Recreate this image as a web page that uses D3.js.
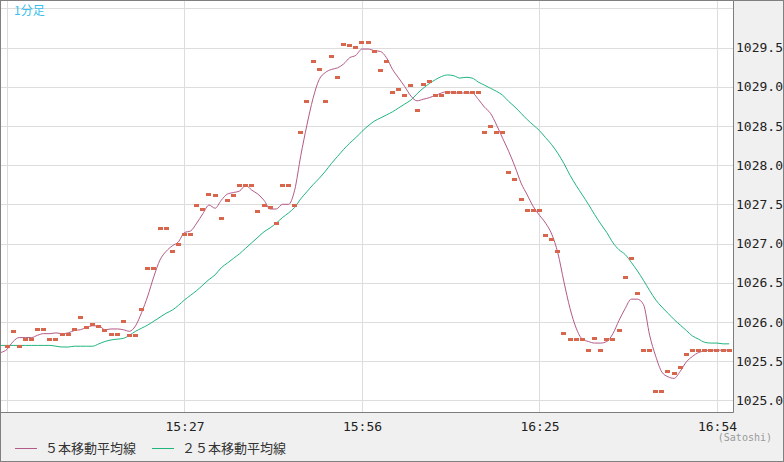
<!DOCTYPE html>
<html>
<head>
<meta charset="utf-8">
<script src="https://cdn.jsdelivr.net/npm/d3@7"></script>
<style>
  html, body { margin: 0; padding: 0; background: #f0f0f0; }
  svg { display: block; }
</style>
</head>
<body>
<svg id="chart"></svg>
<script>
// 1 minute bars, 14:58 - 16:56
var priceStart = "14:58";
var price = [
  1025.68, 1025.88, 1025.68, 1025.78, 1025.78, 1025.90, 1025.90, 1025.78, 1025.78, 1025.84,
  1025.84, 1025.90, 1026.05, 1025.93, 1025.97, 1025.94, 1025.89, 1025.84, 1025.84, 1026.00,
  1025.83, 1025.83, 1026.16, 1026.68, 1026.68, 1027.19, 1027.19, 1026.90, 1026.99, 1027.12,
  1027.12, 1027.49, 1027.44, 1027.63, 1027.61, 1027.32, 1027.55, 1027.61, 1027.74, 1027.74,
  1027.74, 1027.41, 1027.49, 1027.46, 1027.26, 1027.74, 1027.74, 1027.49, 1028.42, 1028.81,
  1029.32, 1029.22, 1028.81, 1029.39, 1029.12, 1029.54, 1029.53, 1029.50, 1029.57, 1029.57,
  1029.45, 1029.21, 1029.32, 1028.93, 1028.97, 1028.89, 1029.01, 1028.70, 1029.03, 1029.06,
  1028.89, 1028.89, 1028.92, 1028.92, 1028.92, 1028.92, 1028.92, 1028.92, 1028.42, 1028.49,
  1028.42, 1028.42, 1027.90, 1027.81, 1027.56, 1027.42, 1027.42, 1027.42, 1027.10, 1027.05,
  1026.90, 1025.85, 1025.78, 1025.78, 1025.78, 1025.64, 1025.79, 1025.64, 1025.78, 1025.78,
  1025.89, 1026.57, 1026.81, 1026.36, 1025.64, 1025.64, 1025.11, 1025.11, 1025.37, 1025.34,
  1025.42, 1025.59, 1025.64, 1025.64, 1025.64, 1025.64, 1025.64, 1025.64, 1025.64
];

// moving averages start one minute earlier (left edge is clipped)
var maStart = "14:57";
var ma5 = [
  1025.61,
  1025.65, 1025.75, 1025.80, 1025.80, 1025.80, 1025.83, 1025.85, 1025.85, 1025.86, 1025.85,
  1025.86, 1025.89, 1025.90, 1025.93, 1025.95, 1025.95, 1025.90, 1025.91, 1025.91, 1025.90,
  1025.88, 1025.95, 1026.12, 1026.33, 1026.58, 1026.79, 1026.90, 1026.97, 1027.02, 1027.14,
  1027.16, 1027.26, 1027.38, 1027.49, 1027.45, 1027.55, 1027.63, 1027.65, 1027.67, 1027.74,
  1027.68, 1027.63, 1027.55, 1027.44, 1027.44, 1027.50, 1027.50, 1027.68, 1028.12, 1028.51,
  1028.85, 1029.09, 1029.18, 1029.22, 1029.24, 1029.29, 1029.37, 1029.40, 1029.48, 1029.48,
  1029.46, 1029.45, 1029.37, 1029.22, 1029.11, 1029.00, 1028.88, 1028.82, 1028.84, 1028.86,
  1028.89, 1028.92, 1028.94, 1028.92, 1028.92, 1028.92, 1028.92, 1028.84, 1028.74, 1028.66,
  1028.51, 1028.34, 1028.17, 1027.98, 1027.77, 1027.62, 1027.47, 1027.36, 1027.26, 1027.12,
  1026.88, 1026.51, 1026.17, 1025.92, 1025.78, 1025.75, 1025.73, 1025.73, 1025.75, 1025.85,
  1026.02, 1026.17, 1026.29, 1026.29, 1026.22, 1025.83, 1025.56, 1025.36, 1025.30, 1025.28,
  1025.37, 1025.49, 1025.56, 1025.61, 1025.63, 1025.64, 1025.64, 1025.64, 1025.64
];
var ma25 = [
  1025.70,
  1025.70, 1025.70, 1025.70, 1025.70, 1025.70, 1025.70, 1025.70, 1025.70, 1025.69, 1025.68,
  1025.68, 1025.69, 1025.69, 1025.69, 1025.69, 1025.72, 1025.75, 1025.77, 1025.78, 1025.79,
  1025.83, 1025.88, 1025.92, 1025.96, 1026.01, 1026.06, 1026.11, 1026.15, 1026.21, 1026.28,
  1026.34, 1026.40, 1026.47, 1026.54, 1026.60, 1026.69, 1026.75, 1026.81, 1026.87, 1026.94,
  1027.01, 1027.08, 1027.15, 1027.20, 1027.26, 1027.33, 1027.39, 1027.46, 1027.57, 1027.66,
  1027.75, 1027.83, 1027.92, 1028.02, 1028.11, 1028.20, 1028.28, 1028.35, 1028.43, 1028.50,
  1028.56, 1028.60, 1028.64, 1028.68, 1028.73, 1028.78, 1028.83, 1028.91, 1028.98, 1029.04,
  1029.09, 1029.13, 1029.15, 1029.14, 1029.11, 1029.12, 1029.11, 1029.06, 1029.02, 1028.98,
  1028.94, 1028.89, 1028.81, 1028.74, 1028.66, 1028.58, 1028.51, 1028.44, 1028.35, 1028.26,
  1028.15, 1028.02, 1027.87, 1027.74, 1027.62, 1027.50, 1027.37, 1027.25, 1027.14, 1027.01,
  1026.92, 1026.86, 1026.76, 1026.65, 1026.53, 1026.40, 1026.28, 1026.19, 1026.11, 1026.03,
  1025.96, 1025.89, 1025.82, 1025.78, 1025.74, 1025.73, 1025.73, 1025.72, 1025.72
];

var gridTimes = ["14:58", "15:27", "15:56", "16:25", "16:54"];
var tickTimes = ["15:27", "15:56", "16:25", "16:54"];
var yTicks = [1025.0, 1025.5, 1026.0, 1026.5, 1027.0, 1027.5, 1028.0, 1028.5, 1029.0, 1029.5, 1030.0];
var yLabels = [1025.0, 1025.5, 1026.0, 1026.5, 1027.0, 1027.5, 1028.0, 1028.5, 1029.0, 1029.5];
var seriesNames = ["５本移動平均線", "２５本移動平均線"];
var seriesColors = ["#b35a86", "#20b57d"];

var W = 784, H = 462;
var plot = {left: 1, top: 1, right: 733, bottom: 412};

var parse = d3.timeParse("%H:%M");
var fmt = d3.timeFormat("%H:%M");
var addMin = (t, n) => d3.timeMinute.offset(parse(t), n);

var priceData = price.map((v, i) => ({t: addMin(priceStart, i), v: v}));
var ma5Data = ma5.map((v, i) => ({t: addMin(maStart, i), v: v}));
var ma25Data = ma25.map((v, i) => ({t: addMin(maStart, i), v: v}));

var x = d3.scaleTime()
  .domain([parse("14:58"), parse("16:56")])
  .range([7, 729.2]);
var y = d3.scaleLinear()
  .domain([1025, 1030])
  .range([400.3, 8.3]);

var svg = d3.select("#chart").attr("width", W).attr("height", H);

svg.append("rect").attr("x", 0).attr("y", 0).attr("width", W).attr("height", H).attr("fill", "#f0f0f0");

svg.append("defs").append("clipPath").attr("id", "clip")
  .append("rect").attr("x", plot.left).attr("y", plot.top)
  .attr("width", plot.right - plot.left).attr("height", plot.bottom - plot.top);

svg.append("rect")
  .attr("x", plot.left).attr("y", plot.top)
  .attr("width", plot.right - plot.left).attr("height", plot.bottom - plot.top)
  .attr("fill", "#fff");

// grid
var gx = svg.append("g")
  .attr("transform", "translate(0," + plot.bottom + ")")
  .call(d3.axisBottom(x).tickValues(gridTimes.map(parse)).tickSize(-(plot.bottom - plot.top)).tickFormat(""));
gx.select(".domain").remove();
gx.selectAll("line").attr("stroke", "#dddddd").attr("shape-rendering", "crispEdges");

var gy = svg.append("g")
  .attr("transform", "translate(" + plot.right + ",0)")
  .call(d3.axisLeft(y).tickValues(yTicks).tickSize(plot.right - plot.left).tickFormat(""));
gy.select(".domain").remove();
gy.selectAll("line").attr("stroke", "#dddddd").attr("shape-rendering", "crispEdges");

// frame
svg.append("path")
  .attr("d", "M" + (plot.right + 0.5) + "," + plot.top + "V" + (plot.bottom + 0.5) + "H" + plot.left)
  .attr("fill", "none").attr("stroke", "#7d7d7d");

var inner = svg.append("g").attr("clip-path", "url(#clip)");

var line = d3.line().x(d => x(d.t)).y(d => y(d.v)).curve(d3.curveMonotoneX);

inner.append("path").datum(ma25Data)
  .attr("d", line).attr("fill", "none").attr("stroke", seriesColors[1]).attr("stroke-width", 1);
inner.append("path").datum(ma5Data)
  .attr("d", line).attr("fill", "none").attr("stroke", seriesColors[0]).attr("stroke-width", 1);

inner.selectAll("rect.bar").data(priceData).enter().append("rect")
  .attr("class", "bar")
  .attr("x", d => Math.round(x(d.t) - 2.5))
  .attr("y", d => Math.round(y(d.v) - 1.5))
  .attr("width", 5).attr("height", 3)
  .attr("fill", "#d8664c");

// axis labels
var ax = svg.append("g")
  .attr("transform", "translate(0," + plot.bottom + ")")
  .call(d3.axisBottom(x).tickValues(tickTimes.map(parse)).tickFormat(fmt).tickSize(0).tickPadding(10));
ax.select(".domain").remove();
ax.selectAll("text").attr("font-family", "DejaVu Sans Mono").attr("font-size", 13).attr("fill", "#222");

var ay = svg.append("g")
  .attr("transform", "translate(" + plot.right + ",0)")
  .call(d3.axisRight(y).tickValues(yLabels).tickFormat(d3.format(".1f")).tickSize(0).tickPadding(3));
ay.select(".domain").remove();
ay.selectAll("text").attr("font-family", "DejaVu Sans Mono").attr("font-size", 13).attr("fill", "#222");

svg.append("text").attr("x", 772).attr("y", 441).attr("text-anchor", "end")
  .attr("font-family", "DejaVu Sans Mono").attr("font-size", 10).attr("fill", "#999")
  .text("(Satoshi)");

svg.append("text").attr("x", 14).attr("y", 15)
  .attr("font-family", "Noto Sans CJK JP").attr("font-size", 12).attr("fill", "#3bbfee")
  .text("1分足");

// legend
var legX = [15, 152];
var leg = svg.selectAll("g.leg").data(seriesNames).enter().append("g")
  .attr("class", "leg")
  .attr("transform", (d, i) => "translate(" + legX[i] + ",448)");
leg.append("line").attr("x1", 0).attr("x2", 22).attr("y1", 0.5).attr("y2", 0.5)
  .attr("stroke", (d, i) => seriesColors[i]);
leg.append("text").attr("x", 30).attr("y", 5)
  .attr("font-family", "Noto Sans CJK JP").attr("font-size", 13).attr("fill", "#333")
  .text(d => d);

// outer border
svg.append("rect").attr("x", 0.5).attr("y", 0.5).attr("width", W - 1).attr("height", H - 1)
  .attr("fill", "none").attr("stroke", "#808080");
</script>
</body>
</html>
